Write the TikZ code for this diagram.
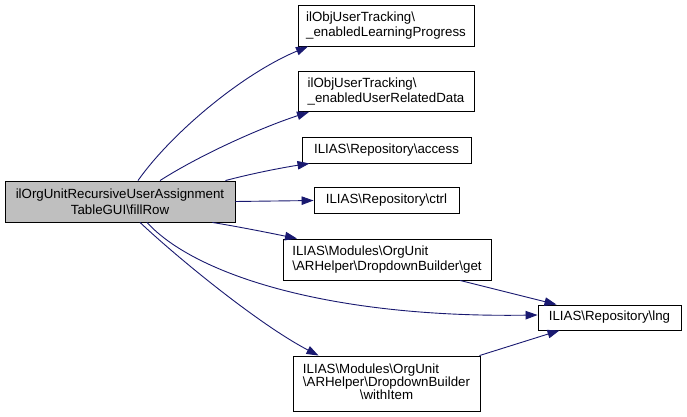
\documentclass[tikz,border=0pt]{standalone}
\usepackage{fontspec}
\setmainfont{Liberation Sans}
\usetikzlibrary{arrows.meta}
\definecolor{edgeblue}{HTML}{191970}
\definecolor{maingray}{HTML}{BFBFBF}
\tikzset{
  box/.style={draw=black, line width=0.9pt, inner sep=0pt, font=\fontsize{13.3}{15.5}\selectfont},
  edge/.style={draw=edgeblue, line width=0.9pt, -{Triangle[length=12pt,width=8.5pt]}},
}
\begin{document}
\begin{tikzpicture}[x=1pt,y=-1pt]
\useasboundingbox (0,0) rectangle (687,417);
\node[box, fill=maingray, minimum width=230, minimum height=41, align=center] (main) at (120,201.5) {ilOrgUnitRecursiveUserAssignment\\TableGUI\textbackslash fillRow};
\node[box, minimum width=176, minimum height=41, align=left] (n1) at (386,25.5) {ilObjUserTracking\textbackslash\\\_enabledLearningProgress};
\node[box, minimum width=176, minimum height=40, align=left] (n2) at (386,91.5) {ilObjUserTracking\textbackslash\\\_enabledUserRelatedData};
\node[box, minimum width=169, minimum height=26] (n3) at (386.5,150) {ILIAS\textbackslash Repository\textbackslash access};
\node[box, minimum width=145, minimum height=26] (n4) at (386.5,200.5) {ILIAS\textbackslash Repository\textbackslash ctrl};
\node[box, minimum width=208, minimum height=41, align=left] (get) at (387,259.5) {ILIAS\textbackslash Modules\textbackslash OrgUnit\\\textbackslash ARHelper\textbackslash DropdownBuilder\textbackslash get};
\node[box, minimum width=143, minimum height=25] (lng) at (609.5,317.5) {ILIAS\textbackslash Repository\textbackslash lng};
\node[box, minimum width=187, minimum height=55] (with) at (386.5,383.5) {\begin{tabular}{@{}l@{}}ILIAS\textbackslash Modules\textbackslash OrgUnit\\[-2.3pt]\textbackslash ARHelper\textbackslash DropdownBuilder\\[-2.3pt]\multicolumn{1}{@{}c@{}}{\textbackslash withItem}\end{tabular}};

\draw[edge] ([xshift=18]main.north) .. controls (170,135) and (240,75) .. ([xshift=-78]n1.south);
\draw[edge] ([xshift=40]main.north) .. controls (200,155) and (260,128) .. ([xshift=-77]n2.south);
\draw[edge] ([xshift=-10]main.north east) .. controls (250,174) and (280,168) .. ([xshift=-77]n3.south);
\draw[edge] (main.east) -- (n4.west);
\draw[edge] ([xshift=-23]main.south east) .. controls (240,227) and (270,233) .. ([xshift=-90]get.north);
\draw[edge] ([xshift=27]main.south) .. controls (195,275) and (330,318) .. ([yshift=2.5]lng.west);
\draw[edge] ([xshift=20]main.south) .. controls (180,260) and (260,325) .. ([xshift=-68]with.north);
\draw[edge] ([xshift=73]get.south) -- ([xshift=-53]lng.north);
\draw[edge] ([xshift=93]with.north) -- ([xshift=-50]lng.south);
\end{tikzpicture}
\end{document}
